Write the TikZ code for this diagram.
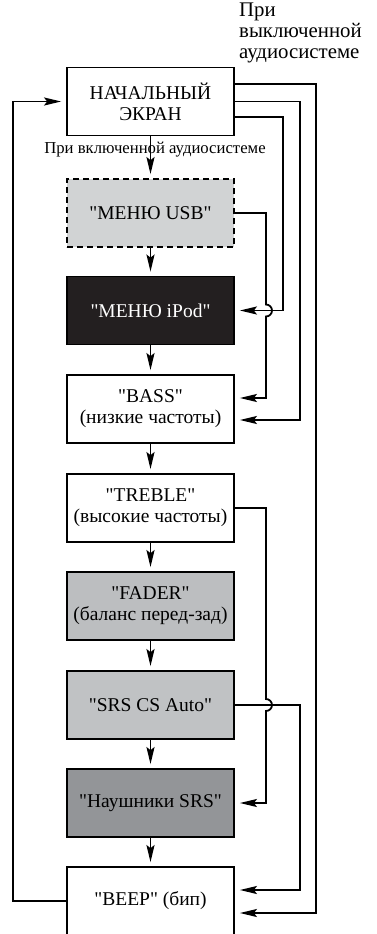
\documentclass[tikz,border=0pt]{standalone}
\usepackage{fontspec}
\setmainfont{Liberation Serif}
\newfontfamily\plainserif{Liberation Serif}
\usetikzlibrary{arrows.meta,calc}
\definecolor{usbfill}{HTML}{D1D3D4}
\definecolor{ipodfill}{HTML}{231F20}
\definecolor{faderfill}{HTML}{BCBEC0}
\definecolor{srsfill}{HTML}{C0C2C4}
\definecolor{naushfill}{HTML}{939598}
\newcommand\dq{{\plainserif\char34}}
\begin{document}
\begin{tikzpicture}[x=1pt,y=-1pt,
  box/.style={draw=black, line width=1.8pt, minimum width=167pt, minimum height=68pt,
    inner sep=0pt, align=center, font=\fontsize{19.5}{21}\selectfont},
  conn/.style={line width=1.8pt},
  arr/.style={conn, -{Stealth[length=17pt,width=8pt,inset=3pt]}, shorten >=5pt},
  varr/.style={conn, -{Stealth[length=17pt,width=8pt,inset=3pt]}, shorten >=4pt},
  lbl/.style={inner sep=0pt, font=\fontsize{20.8}{21}\selectfont, align=left}
]
\useasboundingbox (0,0) rectangle (377,934);
\clip (0,0) rectangle (377,934);

% columns
\coordinate (lx) at (13,0);
\coordinate (c1) at (316,0);
\coordinate (c2) at (300,0);
\coordinate (c3) at (283,0);
\coordinate (c4) at (266,0);

% boxes
\node[box] (b1) at (150.5,101.5) {НАЧАЛЬНЫЙ\\ЭКРАН};
\node[box, dash pattern=on 6pt off 4pt, fill=usbfill] (usb) at (150.5,213) {\dq{}МЕНЮ USB\dq};
\node[box, fill=ipodfill, text=white] (ipod) at (150.5,310.5) {\dq{}МЕНЮ iPod\dq};
\node[box] (bass) at (150.5,409) {\dq{}BASS\dq\\(низкие частоты)};
\node[box] (treble) at (150.5,508) {\dq{}TREBLE\dq\\(высокие частоты)};
\node[box, fill=faderfill] (fader) at (150.5,606) {\dq{}FADER\dq\\(баланс перед-зад)};
\node[box, fill=srsfill] (srs) at (150.5,705) {\dq{}SRS CS Auto\dq};
\node[box, fill=naushfill] (naush) at (150.5,803) {\dq{}Наушники SRS\dq};
\node[box] (beep) at (150.5,901) {\dq{}BEEP\dq{} (бип)};

% labels
\node[lbl, anchor=north west] (off) at (239,3) {При\\выключенной\\аудиосистеме};
\node[inner sep=0pt, font=\fontsize{16.7}{18}\selectfont] (on) at (155,150) {При включенной аудиосистеме};

% vertical chain
\draw[varr] (b1) -- (usb);
\draw[varr] (usb) -- (ipod);
\draw[varr] (ipod) -- (bass);
\draw[varr] (bass) -- (treble);
\draw[varr] (treble) -- (fader);
\draw[varr] (fader) -- (srs);
\draw[varr] (srs) -- (naush);
\draw[varr] (naush) -- (beep);

% return loop
\draw[arr] (beep.west) -- (beep.west -| lx) -- (b1.west -| lx) -- (b1.west);

% right side connectors
\draw[arr] ($(b1.east)+(0,-17.5)$) coordinate (a1) -- (a1 -| c1) |- ($(beep.east)+(0,12)$);
\draw[arr] (b1.east) -- (b1.east -| c2) |- ($(bass.east)+(0,11)$);
\draw[arr] ($(b1.east)+(0,15.5)$) coordinate (a3) -- (a3 -| c3) |- (ipod.east);
\draw[arr] (usb.east) -- (usb.east -| c4) -- ($(ipod.east -| c4)+(0,-6)$)
  arc[start angle=-90, end angle=90, radius=6] |- ($(bass.east)+(0,-11)$);
\draw[arr] (treble.east) -- (treble.east -| c4) -- ($(srs.east -| c4)+(0,-6)$)
  arc[start angle=-90, end angle=90, radius=6] |- (naush.east);
\draw[arr] (srs.east) -- (srs.east -| c2) |- ($(beep.east)+(0,-11)$);
\end{tikzpicture}
\end{document}
